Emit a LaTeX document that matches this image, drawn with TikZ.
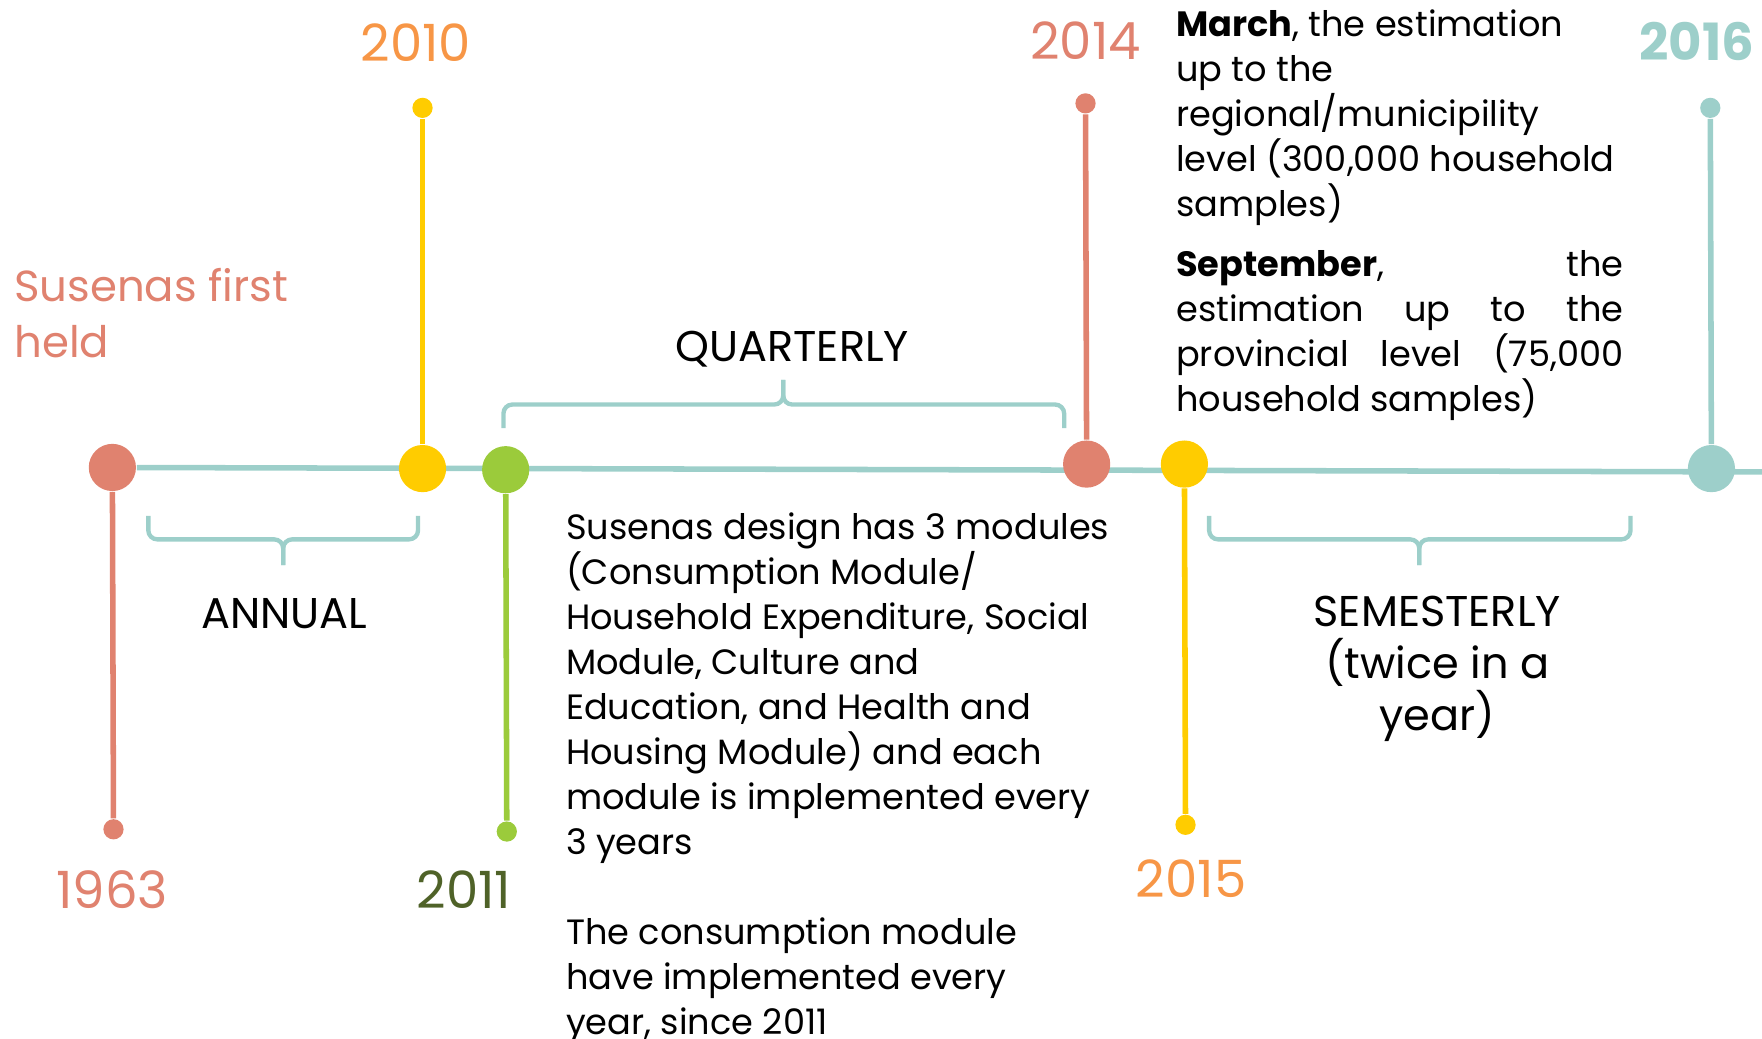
\documentclass[tikz,border=0pt]{standalone}
\usepackage{fontspec}
\setmainfont{Poppins}
\usetikzlibrary{positioning}

\definecolor{salmon}{HTML}{E0826F}
\definecolor{sun}{HTML}{FFCC00}
\definecolor{leaf}{HTML}{9BCB3B}
\definecolor{sea}{HTML}{9DCFCA}
\definecolor{tangerine}{HTML}{F79646}
\definecolor{olive}{HTML}{4F6228}
\newcommand{\tightlines}{\lineskiplimit=-20pt\relax}

\begin{document}
\begin{tikzpicture}[x=0.1mm,y=-0.1mm]
\tikzstyle{every node}+=[inner sep=0pt]
\tikzstyle{bigdot}=[circle,minimum size=4.2mm]
\tikzstyle{tipdot}=[circle,minimum size=1.8mm]
\tikzstyle{stem}=[line width=1.4pt]
\tikzstyle{bracket}=[draw=sea,line width=1.1pt,rounded corners=0.8mm]
\tikzstyle{year}=[font=\fontsize{13}{15}\selectfont]
\tikzstyle{tag}=[font={\fontsize{10.9}{13.1}\selectfont\tightlines},align=center]
\tikzstyle{body}=[font={\fontsize{8.9}{11.38}\selectfont\tightlines},align=left,anchor=north west]
\useasboundingbox (0,0) rectangle (1568,924);
% the line
\node[bigdot,fill=salmon] (d1963) at (100,416) {};
\coordinate (tlend) at (1568,420);
\draw [sea,stem] (d1963) -- (tlend);
\node[bigdot,fill=sun] (d2010) at (376,417) {};
\node[bigdot,fill=leaf] (d2011) at (450,418) {};
\node[bigdot,fill=salmon] (d2014) at (967,413) {};
\node[bigdot,fill=sun] (d2015) at (1054,413) {};
\node[bigdot,fill=sea] (d2016) at (1523,417) {};
% stems
\node[tipdot,fill=salmon] (t1963) at (101,738) {};
\node[tipdot,fill=sun] (t2010) at (376,96) {};
\node[tipdot,fill=leaf] (t2011) at (451,740) {};
\node[tipdot,fill=salmon] (t2014) at (966,92) {};
\node[tipdot,fill=sun] (t2015) at (1055,734) {};
\node[tipdot,fill=sea] (t2016) at (1522,96) {};
\draw [salmon,stem] (d1963) -- (t1963);
\draw [sun,stem] (d2010) -- (t2010);
\draw [leaf,stem] (d2011) -- (t2011);
\draw [salmon,stem] (d2014) -- (t2014);
\draw [sun,stem] (d2015) -- (t2015);
\draw [sea,stem] (d2016) -- (t2016);
% years
\node[year,text=salmon] (y1963) at (100,792) {1963};
\node[year,text=tangerine] (y2010) at (370,38) {2010};
\node[year,text=olive] (y2011) at (413,792) {2011};
\node[year,text=salmon] (y2014) at (966,36) {2014};
\node[year,text=tangerine] (y2015) at (1060,782) {2015};
\node[year,text=sea,font=\fontsize{13}{15}\selectfont\bfseries] (y2016) at (1510,37) {2016};
\node[anchor=north west,align=left,text=salmon,font=\fontsize{11}{14.2}\selectfont] (first) at (12,238) {Susenas first\\held};
% brackets
\draw [bracket] (132,459) -- (132,480) -- (252,480) -- (252,503);
\draw [bracket] (372,459) -- (372,480) -- (252,480) -- (252,503);
\draw [bracket] (448,381) -- (448,360) -- (697,360) -- (697,338);
\draw [bracket] (947,381) -- (947,360) -- (697,360) -- (697,338);
\draw [bracket] (1076,459) -- (1076,480) -- (1263,480) -- (1263,503);
\draw [bracket] (1451,459) -- (1451,480) -- (1263,480) -- (1263,503);
\node[tag] (annual) at (253,546) {ANNUAL};
\node[tag] (quarterly) at (705,311) {QUARTERLY};
\node[tag,anchor=north] (semester) at (1279,530) {SEMESTERLY\\(twice in a\\year)};
% texts
\node[body] (modules) at (503,456) {Susenas design has 3 modules\\
(Consumption Module/\\
Household Expenditure, Social\\
Module, Culture and\\
Education, and Health and\\
Housing Module) and each\\
module is implemented every\\
3 years\\[11.38pt]
The consumption module\\
have implemented every\\
year, since 2011};
\node[body] (march) at (1046,8) {\textbf{March}, the estimation\\
up to the\\
regional/municipility\\
level (300,000 household\\
samples)};
\node[body] (september) at (1046,222) {\makebox[39.8mm][s]{\textbf{September}, the}\\
\makebox[39.8mm][s]{estimation up to the}\\
\makebox[39.8mm][s]{provincial level (75,000}\\
household samples)};
\end{tikzpicture}
\end{document}
